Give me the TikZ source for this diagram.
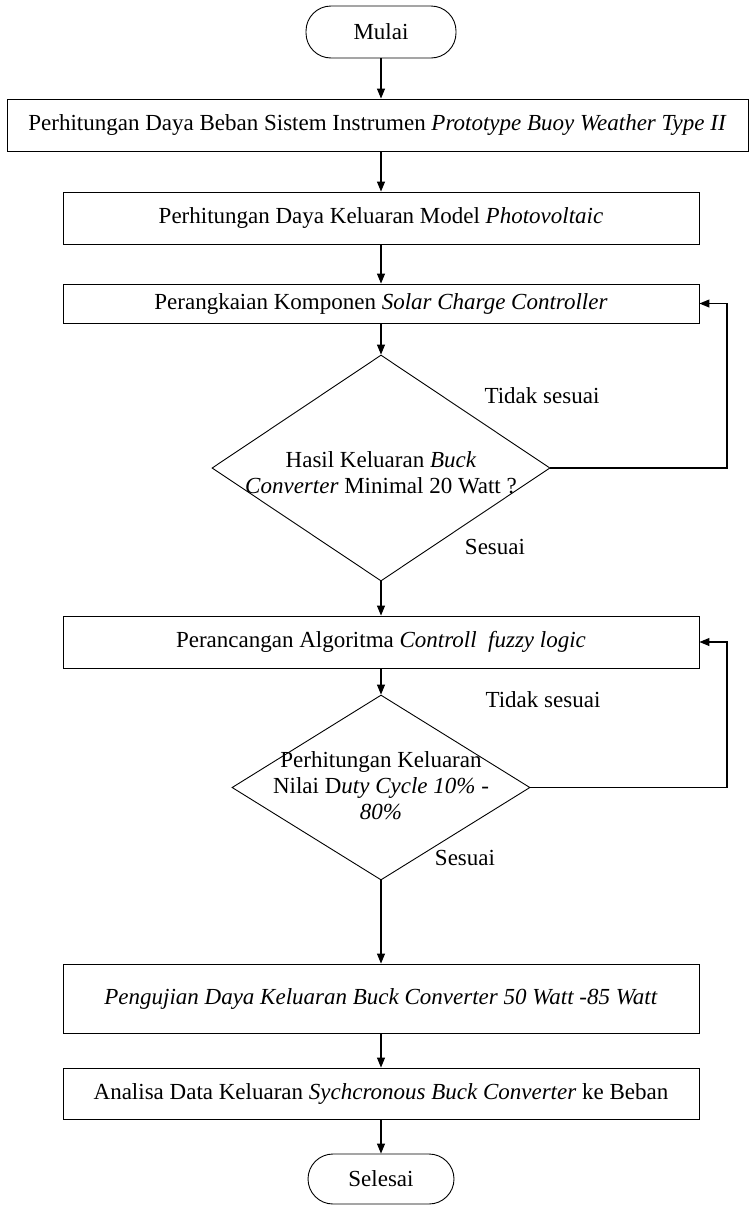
\documentclass[tikz,border=0pt]{standalone}
\usepackage{fontspec}
\setmainfont{Liberation Serif}
\usetikzlibrary{arrows.meta,shapes.geometric}
\begin{document}
\begin{tikzpicture}[x=1pt,y=-1pt,
  txt/.style={font=\fontsize{23}{26}\selectfont},
  box/.style={draw, line width=0.9pt, inner sep=0pt, align=center, txt},
  term/.style={draw, line width=0.9pt, rounded corners=25pt, minimum width=150pt, minimum height=52pt, txt},
  dia/.style={draw, diamond, line width=0.9pt, inner sep=0pt},
  arr/.style={line width=1.1pt, -{Triangle[length=10pt,width=8pt]}},
  lbl/.style={inner sep=0pt, txt}]
\useasboundingbox (0,0) rectangle (750,1205);
\fill[white] (0,0) rectangle (750,1205);

\node[term] (mulai) at (381,32) {Mulai};
\node[box, minimum width=741pt, minimum height=52pt] (b1) at (377.5,125)
  {Perhitungan Daya Beban Sistem Instrumen \textit{Prototype Buoy Weather Type II}};
\node[box, minimum width=636pt, minimum height=52pt] (b2) at (381,218)
  {Perhitungan Daya Keluaran Model \textit{Photovoltaic}};
\node[box, minimum width=636pt, minimum height=39pt] (b3) at (381,303.5)
  {Perangkaian Komponen \textit{Solar Charge Controller}};
\node[dia, minimum width=338pt, minimum height=226pt] (d1) at (381,468) {};
\node[lbl, align=center] (d1t) at (381,473)
  {Hasil Keluaran \textit{Buck}\\\textit{Converter} Minimal 20 Watt ?};
\node[box, minimum width=636pt, minimum height=52pt] (b4) at (381,642)
  {Perancangan Algoritma \textit{Controll\ \ fuzzy logic}};
\node[dia, minimum width=298pt, minimum height=185pt] (d2) at (381,787.5) {};
\node[lbl, align=center] (d2t) at (381,786)
  {Perhitungan Keluaran\\Nilai D\textit{uty Cycle 10\% -}\\\textit{80\%}};
\node[box, minimum width=636pt, minimum height=69pt] (b5) at (381,998.5)
  {\textit{Pengujian Daya Keluaran Buck Converter 50 Watt -85 Watt}};
\node[box, minimum width=636pt, minimum height=51pt] (b6) at (381,1093.5)
  {Analisa Data Keluaran \textit{Sychcronous Buck Converter} ke Beban};
\node[term, minimum width=146pt, minimum height=50pt] (selesai) at (381,1179) {Selesai};

\node[lbl] (t1) at (542,396) {Tidak sesuai};
\node[lbl] (s1) at (495,547) {Sesuai};
\node[lbl] (t2) at (543,700) {Tidak sesuai};
\node[lbl] (s2) at (465,858) {Sesuai};

\draw[arr] (mulai.south) -- (mulai.south |- b1.north);
\draw[arr] (b2.north |- b1.south) -- (b2.north);
\draw[arr] (b2.south) -- (b3.north);
\draw[arr] (b3.south) -- (d1.north);
\draw[arr] (d1.south) -- (b4.north);
\draw[arr] (b4.south) -- (d2.north);
\draw[arr] (d2.south) -- (b5.north);
\draw[arr] (b5.south) -- (b6.north);
\draw[arr] (b6.south) -- (selesai.north);

\coordinate (lx) at (727,0);
\draw[arr] (d1.east) -- (d1.east -| lx) -- (b3.east -| lx) -- (b3.east);
\draw[arr] (d2.east) -- (d2.east -| lx) -- (b4.east -| lx) -- (b4.east);
\end{tikzpicture}
\end{document}
